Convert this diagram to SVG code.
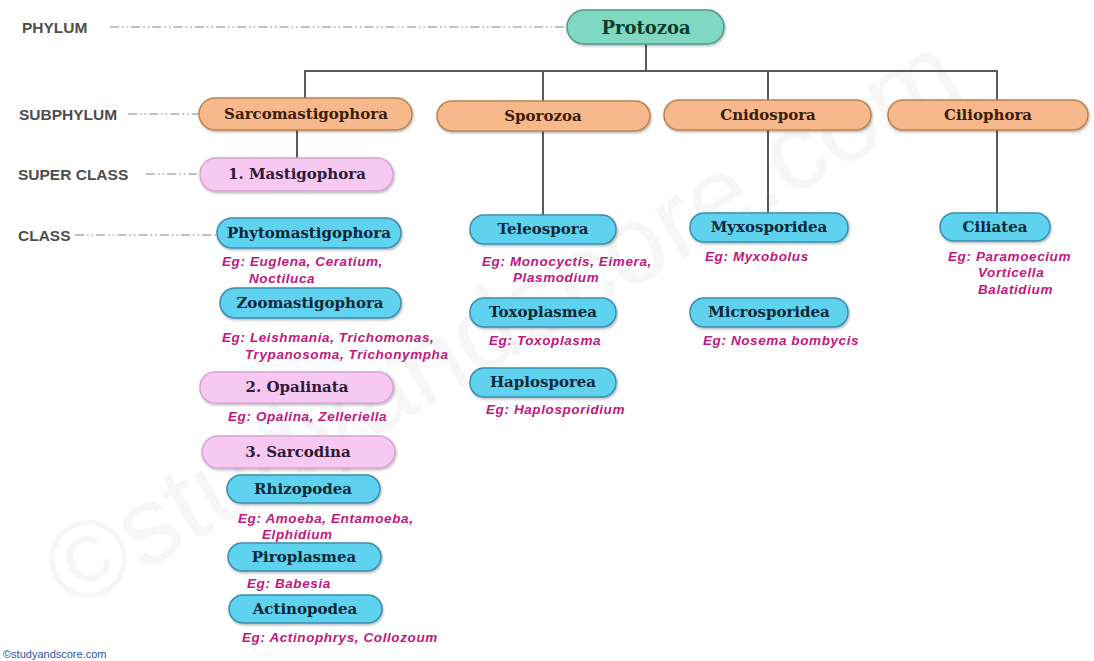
<svg xmlns="http://www.w3.org/2000/svg" width="1094" height="661" viewBox="0 0 1094 661">
<defs>
<filter id="sh" x="-10%" y="-20%" width="120%" height="150%">
<feDropShadow dx="1" dy="1.5" stdDeviation="1" flood-color="#000000" flood-opacity="0.28"/>
</filter>
</defs>
<style>
.lvl{font-family:"Liberation Sans",Arial,sans-serif;font-weight:bold;font-size:15.5px;fill:#4d4d4d}
.dd{stroke:#9fb0c2;stroke-width:1.6;fill:none;stroke-dasharray:9 3 1.6 3 1.6 3}
.conn{stroke:#5a5a5a;stroke-width:2;fill:none}
.lab{font-family:"DejaVu Serif","Liberation Serif",serif;font-weight:bold;font-size:15px;text-anchor:middle;dominant-baseline:central}
rect.box{filter:url(#sh);stroke-width:1.5}
.phy rect{fill:#80d7c2;stroke:#4c9b88}
.phy text{fill:#0f3b2c;font-size:18px}
.sub rect{fill:#f7b98b;stroke:#b98150}
.sub text{fill:#3a1c08}
.sup rect{fill:#f7c8f2;stroke:#d6a2d2}
.sup text{fill:#2d1a35}
.cls rect{fill:#5ed2ef;stroke:#3a8db0}
.cls text{fill:#0c2735}
text.eg,.cls text.eg{font-family:"Liberation Sans",Arial,sans-serif;font-weight:bold;font-style:italic;font-size:13.5px;letter-spacing:0.6px;fill:#c0187f}
.wm{font-family:"Liberation Sans",Arial,sans-serif;font-size:110px;fill:#f6f6f6}
</style>
<rect width="1094" height="661" fill="#ffffff"/>
<text class="wm" transform="translate(72 612) rotate(-30)">©studyandscore.com</text>

<g id="levels">
<text class="lvl" x="22" y="33">PHYLUM</text>
<line class="dd" x1="110" y1="27" x2="566" y2="27"/>
<text class="lvl" x="19" y="120">SUBPHYLUM</text>
<line class="dd" x1="128" y1="114" x2="198" y2="114"/>
<text class="lvl" x="18" y="180">SUPER CLASS</text>
<line class="dd" x1="146" y1="174" x2="199" y2="174"/>
<text class="lvl" x="18" y="241">CLASS</text>
<line class="dd" x1="75" y1="235" x2="216" y2="235"/>
</g>

<g id="connectors">
<line class="conn" x1="646" y1="44" x2="646" y2="71"/>
<polyline class="conn" points="305,98 305,71 997,71 997,100"/>
<line class="conn" x1="543" y1="71" x2="543" y2="101"/>
<line class="conn" x1="768" y1="71" x2="768" y2="100"/>
<line class="conn" x1="297" y1="130" x2="297" y2="158"/>
<line class="conn" x1="543" y1="131" x2="543" y2="215"/>
<line class="conn" x1="768" y1="130" x2="768" y2="213"/>
<line class="conn" x1="997" y1="130" x2="997" y2="213"/>
</g>

<g id="protozoa" class="phy"><rect class="box" x="567" y="10" width="157" height="34" rx="17"/><text class="lab" x="646" y="27">Protozoa</text></g>

<g id="sarcomastigophora" class="sub"><rect class="box" x="199" y="98" width="213" height="32" rx="16"/><text class="lab" x="306" y="114">Sarcomastigophora</text></g>
<g id="sporozoa" class="sub"><rect class="box" x="437" y="101" width="213" height="30" rx="15"/><text class="lab" x="543" y="116">Sporozoa</text></g>
<g id="cnidospora" class="sub"><rect class="box" x="664" y="100" width="207" height="30" rx="15"/><text class="lab" x="768" y="115">Cnidospora</text></g>
<g id="ciliophora" class="sub"><rect class="box" x="888" y="100" width="200" height="30" rx="15"/><text class="lab" x="988" y="115">Ciliophora</text></g>

<g id="mastigophora" class="sup"><rect class="box" x="200" y="158" width="193" height="33" rx="16"/><text class="lab" x="297" y="174">1. Mastigophora</text></g>
<g id="opalinata" class="sup"><rect class="box" x="200" y="372" width="193" height="31" rx="15"/><text class="lab" x="297" y="387">2. Opalinata</text>
<text class="eg" x="228" y="421">Eg: Opalina, Zelleriella</text></g>
<g id="sarcodina" class="sup"><rect class="box" x="202" y="436" width="193" height="32" rx="16"/><text class="lab" x="298" y="452">3. Sarcodina</text></g>

<g id="phytomastigophora" class="cls"><rect class="box" x="217" y="218" width="184" height="30" rx="15"/><text class="lab" x="309" y="233">Phytomastigophora</text>
<text class="eg" x="222" y="266">Eg: Euglena, Ceratium,</text><text class="eg" x="249" y="283">Noctiluca</text></g>
<g id="zoomastigophora" class="cls"><rect class="box" x="220" y="288" width="181" height="30" rx="15"/><text class="lab" x="310" y="303">Zoomastigophora</text>
<text class="eg" x="222" y="342">Eg: Leishmania, Trichomonas,</text><text class="eg" x="245" y="359">Trypanosoma, Trichonympha</text></g>
<g id="rhizopodea" class="cls"><rect class="box" x="227" y="475" width="153" height="28" rx="14"/><text class="lab" x="303" y="489">Rhizopodea</text>
<text class="eg" x="238" y="523">Eg: Amoeba, Entamoeba,</text><text class="eg" x="262" y="539">Elphidium</text></g>
<g id="piroplasmea" class="cls"><rect class="box" x="228" y="543" width="153" height="28" rx="14"/><text class="lab" x="304" y="557">Piroplasmea</text>
<text class="eg" x="247" y="588">Eg: Babesia</text></g>
<g id="actinopodea" class="cls"><rect class="box" x="229" y="595" width="153" height="28" rx="14"/><text class="lab" x="305" y="609">Actinopodea</text>
<text class="eg" x="242" y="642">Eg: Actinophrys, Collozoum</text></g>

<g id="teleospora" class="cls"><rect class="box" x="470" y="215" width="146" height="29" rx="14"/><text class="lab" x="543" y="229">Teleospora</text>
<text class="eg" x="482" y="266">Eg: Monocyctis, Eimera,</text><text class="eg" x="513" y="282">Plasmodium</text></g>
<g id="toxoplasmea" class="cls"><rect class="box" x="470" y="298" width="146" height="29" rx="14"/><text class="lab" x="543" y="312">Toxoplasmea</text>
<text class="eg" x="489" y="345">Eg: Toxoplasma</text></g>
<g id="haplosporea" class="cls"><rect class="box" x="470" y="368" width="146" height="29" rx="14"/><text class="lab" x="543" y="382">Haplosporea</text>
<text class="eg" x="486" y="414">Eg: Haplosporidium</text></g>

<g id="myxosporidea" class="cls"><rect class="box" x="690" y="213" width="158" height="29" rx="14"/><text class="lab" x="769" y="227">Myxosporidea</text>
<text class="eg" x="705" y="261">Eg: Myxobolus</text></g>
<g id="microsporidea" class="cls"><rect class="box" x="690" y="298" width="158" height="29" rx="14"/><text class="lab" x="769" y="312">Microsporidea</text>
<text class="eg" x="703" y="345">Eg: Nosema bombycis</text></g>

<g id="ciliatea" class="cls"><rect class="box" x="940" y="213" width="110" height="28" rx="14"/><text class="lab" x="995" y="227">Ciliatea</text>
<text class="eg" x="948" y="261">Eg: Paramoecium</text><text class="eg" x="978" y="277">Vorticella</text><text class="eg" x="978" y="294">Balatidium</text></g>

<text x="3" y="658" font-family="Liberation Sans,Arial,sans-serif" font-size="11px" fill="#2d54a8">©studyandscore.com</text>
</svg>
